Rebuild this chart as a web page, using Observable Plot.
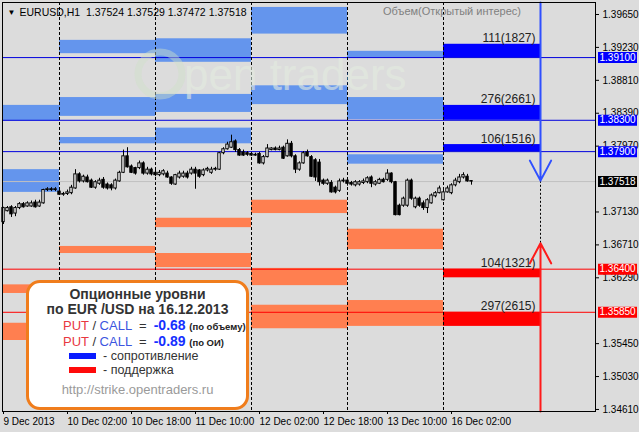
<!DOCTYPE html>
<html><head><meta charset="utf-8">
<script src="https://cdn.jsdelivr.net/npm/d3@7"></script>
<script src="https://cdn.jsdelivr.net/npm/@observablehq/plot@0.6"></script>
<style>
body{margin:0;background:#dcdcdc;}
#wrap{position:relative;width:639px;height:432px;overflow:hidden;background:#dcdcdc;font-family:"Liberation Sans",Arial,sans-serif;}
#chart svg{display:block;}
#wm{position:absolute;left:0;top:0;width:639px;height:432px;pointer-events:none;}
#legend{position:absolute;left:26px;top:280px;width:217px;height:124px;background:#fff;border:3px solid #f07d1c;border-radius:14px;color:#333;}
#legend div{position:absolute;white-space:nowrap;line-height:1;}
.put{color:#e8383f}.call{color:#3c55e0}.num{color:#1530ff;font-weight:bold;font-size:14px}.sm{font-weight:bold;font-size:9.5px;color:#222}
</style></head><body>
<div id="wrap">
  <div id="chart"></div>
  <div id="wm">
    <svg width="639" height="432">
      <circle cx="160" cy="74" r="22" fill="none" stroke="#cfe0c8" stroke-width="7" opacity="0.45"/>
      <text x="184" y="90" font-family="Liberation Sans, Arial" font-size="44" fill="#e4ece0" opacity="0.6">pen traders</text>
    </svg>
  </div>
  <div id="legend">
    <div style="left:0;width:217px;text-align:center;top:4px;font-weight:bold;font-size:14px;">Опционные уровни</div>
    <div style="left:0;width:217px;text-align:center;top:19px;font-weight:bold;font-size:14px;">по EUR /USD на 16.12.2013</div>
    <div style="left:34px;top:35px;font-size:13px;"><span class="put">PUT</span> / <span class="call">CALL</span> &nbsp;= &nbsp;<span class="num">-0.68</span> <span class="sm">(по объему)</span></div>
    <div style="left:34px;top:51px;font-size:13px;"><span class="put">PUT</span> / <span class="call">CALL</span> &nbsp;= &nbsp;<span class="num">-0.89</span> <span class="sm">(по ОИ)</span></div>
    <div style="left:40px;top:70px;width:27px;height:6px;background:#0a1cff;"></div>
    <div style="left:74px;top:67px;font-size:12.5px;">- сопротивление</div>
    <div style="left:40px;top:84px;width:27px;height:6px;background:#ff0a0a;"></div>
    <div style="left:74px;top:81px;font-size:12.5px;">- поддержка</div>
    <div style="left:0;width:217px;text-align:center;top:100px;font-size:13px;color:#9a9a9a;">http://strike.opentraders.ru</div>
  </div>
</div>
<script>
// ---- hourly candles (bar index 0 = 9 Dec 10:00) ----
const opens  = [1.3700,1.3714,1.3719,1.3711,1.3718,1.3723,1.3720,1.3720,1.3725,1.3720,1.3724,1.3741,1.3742,1.3741,1.3739,1.3735,1.3736,1.3737,1.3743,1.3761,1.3752,1.3757,1.3753,1.3744,1.3749,1.3754,1.3748,1.3747,1.3743,1.3752,1.3763,1.3784,1.3771,1.3769,1.3769,1.3775,1.3762,1.3767,1.3763,1.3760,1.3761,1.3762,1.3757,1.3748,1.3757,1.3758,1.3762,1.3762,1.3767,1.3766,1.3760,1.3766,1.3763,1.3767,1.3767,1.3788,1.3793,1.3795,1.3803,1.3792,1.3789,1.3788,1.3787,1.3786,1.3787,1.3775,1.3783,1.3792,1.3794,1.3792,1.3795,1.3784,1.3800,1.3784,1.3767,1.3775,1.3789,1.3783,1.3779,1.3776,1.3753,1.3749,1.3750,1.3744,1.3740,1.3752,1.3753,1.3750,1.3747,1.3748,1.3750,1.3751,1.3757,1.3748,1.3749,1.3754,1.3754,1.3762,1.3751,1.3721,1.3721,1.3721,1.3753,1.3719,1.3730,1.3724,1.3718,1.3724,1.3733,1.3737,1.3728,1.3738,1.3737,1.3747,1.3751,1.3757,1.3758,1.37524];
const highs  = [1.3719,1.3720,1.3721,1.3720,1.3725,1.3725,1.3726,1.3727,1.3728,1.3728,1.3742,1.3744,1.3744,1.3744,1.3742,1.3738,1.3741,1.3747,1.3767,1.3763,1.3760,1.3760,1.3755,1.3753,1.3756,1.3757,1.3750,1.3749,1.3755,1.3765,1.3792,1.3795,1.3773,1.3770,1.3778,1.3777,1.3770,1.3769,1.3766,1.3766,1.3767,1.3765,1.3758,1.3761,1.3765,1.3765,1.3765,1.3770,1.3770,1.3767,1.3768,1.3770,1.3770,1.3770,1.3789,1.3795,1.3802,1.3811,1.3805,1.3794,1.3792,1.3790,1.3789,1.3788,1.3789,1.3785,1.3799,1.3795,1.3796,1.3797,1.3797,1.3805,1.3803,1.3786,1.3777,1.3790,1.3792,1.3785,1.3781,1.3780,1.3755,1.3755,1.3753,1.3746,1.3755,1.3756,1.3755,1.3752,1.3753,1.3753,1.3755,1.3758,1.3759,1.3753,1.3756,1.3756,1.3767,1.3763,1.3752,1.3723,1.3732,1.3755,1.3755,1.3732,1.3732,1.3727,1.3730,1.3736,1.3739,1.3746,1.3741,1.3746,1.3749,1.3756,1.3761,1.3763,1.3761,1.37529];
const lows   = [1.3697,1.3713,1.3706,1.3707,1.3716,1.3718,1.3719,1.3719,1.3718,1.3719,1.3723,1.3739,1.3739,1.3739,1.3734,1.3733,1.3734,1.3735,1.3742,1.3750,1.3750,1.3750,1.3743,1.3742,1.3747,1.3742,1.3741,1.3740,1.3741,1.3751,1.3762,1.3769,1.3762,1.3760,1.3767,1.3760,1.3760,1.3759,1.3758,1.3758,1.3759,1.3756,1.3747,1.3747,1.3755,1.3756,1.3755,1.3760,1.3742,1.3756,1.3758,1.3764,1.3761,1.3765,1.3766,1.3786,1.3792,1.3794,1.3789,1.3784,1.3784,1.3784,1.3784,1.3784,1.3774,1.3773,1.3782,1.3791,1.3791,1.3791,1.3780,1.3783,1.3782,1.3762,1.3765,1.3774,1.3783,1.3757,1.3752,1.3746,1.3747,1.3747,1.3737,1.3736,1.3738,1.3750,1.3746,1.3746,1.3745,1.3746,1.3748,1.3749,1.3744,1.3746,1.3748,1.3750,1.3752,1.3749,1.3708,1.3708,1.3719,1.3719,1.3728,1.3717,1.3719,1.3715,1.3711,1.3723,1.3731,1.3736,1.3727,1.3737,1.3735,1.3745,1.3749,1.3755,1.3751,1.37472];
const closes = [1.3718,1.3718,1.3710,1.3718,1.3723,1.3719,1.3724,1.3724,1.3719,1.3725,1.3741,1.3742,1.3741,1.3742,1.3735,1.3736,1.3738,1.3744,1.3761,1.3752,1.3758,1.3751,1.3744,1.3751,1.3753,1.3744,1.3743,1.3743,1.3753,1.3763,1.3784,1.3770,1.3763,1.3762,1.3775,1.3762,1.3767,1.3761,1.3760,1.3763,1.3765,1.3757,1.3749,1.3760,1.3762,1.3762,1.3757,1.3767,1.3762,1.3758,1.3766,1.3768,1.3767,1.3768,1.3788,1.3793,1.3799,1.3802,1.3792,1.3785,1.3785,1.3786,1.3785,1.3785,1.3775,1.3783,1.3794,1.3794,1.3792,1.3794,1.3781,1.3800,1.3784,1.3767,1.3775,1.3788,1.3784,1.3758,1.3757,1.3751,1.3749,1.3753,1.3738,1.3738,1.3752,1.3753,1.3749,1.3748,1.3751,1.3751,1.3752,1.3756,1.3749,1.3751,1.3754,1.3751,1.3762,1.3751,1.3709,1.3709,1.3730,1.3753,1.3730,1.3730,1.3721,1.3718,1.3728,1.3734,1.3737,1.3743,1.3738,1.3743,1.3747,1.3753,1.3757,1.3760,1.3752,1.37518];

// ---- day separators (bar index of 00:00) and projection end ----
const daySep = [14, 38, 62, 86, 110];
const projEnd = 134.25;
const xTickIdx = [0, 16, 32, 48, 64, 80, 96, 112];
const xTickLabels = ["9 Dec 2013","10 Dec 02:00","10 Dec 18:00","11 Dec 10:00","12 Dec 02:00","12 Dec 18:00","13 Dec 10:00","16 Dec 02:00"];

// ---- previous days' option zones ----
const resistDay = [0,0,1,1,1,2,2,2,3,3,4,4,4];
const resistHi  = [1.3849,1.3767,1.3932,1.3859,1.3808,1.3934,1.3863,1.3820,1.3974,1.3874,1.3918,1.3859,1.3786];
const resistLo  = [1.3829,1.3738,1.3915,1.3835,1.3800,1.3904,1.3840,1.3800,1.3940,1.3850,1.3910,1.3831,1.3774];
const supportDay = [0,0,1,2,2,3,3,3,4,4];
const supportHi  = [1.3620,1.3571,1.3669,1.3705,1.3660,1.3728,1.3641,1.3594,1.3691,1.3600];
const supportLo  = [1.3609,1.3549,1.3660,1.3693,1.3642,1.3711,1.3619,1.3564,1.3665,1.3567];

// ---- current day levels ----
const levelStrike = [1.3910, 1.3830, 1.3790, 1.3640, 1.3585];
const levelEdge   = [1.3927, 1.3849, 1.3799, 1.3629, 1.3567];
const levelLabel  = ["111(1827)","276(2661)","106(1516)","104(1321)","297(2615)"];
const levelType   = ["call","call","call","put","put"];

// ---- axis ----
const yTicks = [1.3965,1.3923,1.3881,1.3839,1.3797,1.3713,1.3671,1.3629,1.3545,1.3503,1.3461];
const lastPrice = 1.37518;
const arrowDownTip = 1.3753;
const arrowUpTip = 1.3673;
const header = "EURUSD,H1  1.37524 1.37529 1.37472 1.37518";
const volTitle = "Объем(Открытый интерес)";

const xDom = [-0.25, 148];
const yDom = [1.34584, 1.39803];

const candles = opens.map((o, i) => ({i, o, h: highs[i], l: lows[i], c: closes[i]}));
const dayStart = d => d === 0 ? xDom[0] : daySep[d - 1];
const dayEnd = d => d < daySep.length ? daySep[d] : projEnd;
const resist = resistDay.map((d, k) => ({x1: dayStart(d), x2: dayEnd(d), y1: resistLo[k], y2: resistHi[k]}));
const support = supportDay.map((d, k) => ({x1: dayStart(d), x2: dayEnd(d), y1: supportLo[k], y2: supportHi[k]}));
const levels = levelStrike.map((s, k) => ({s, e: levelEdge[k], top: Math.max(s, levelEdge[k]), label: levelLabel[k], type: levelType[k]}));
const tags = [
  ...levels.map(l => ({y: l.s, color: l.type === "call" ? "#0000ff" : "#ff0000"})),
  {y: lastPrice, color: "#000000"}
];

const plot = Plot.plot({
  width: 639, height: 432,
  marginLeft: 2, marginRight: 44, marginTop: 2, marginBottom: 21,
  style: {background: "#dcdcdc", fontFamily: "Liberation Sans, Arial, sans-serif", fontSize: "10px", color: "#000"},
  x: {type: "linear", domain: xDom},
  y: {type: "linear", domain: yDom},
  marks: [
    Plot.rect(resist, {x1: "x1", x2: "x2", y1: "y1", y2: "y2", fill: "#6495ed"}),
    Plot.rect(support, {x1: "x1", x2: "x2", y1: "y1", y2: "y2", fill: "#ff7f50"}),
    Plot.rect(levels, {x1: daySep[daySep.length - 1], x2: projEnd, y1: "s", y2: "e", fill: d => d.type === "call" ? "#0000ff" : "#ff0000"}),
    Plot.ruleY(levels, {y: "s", stroke: d => d.type === "call" ? "#0000dd" : "#ff0000", strokeWidth: 1}),
    Plot.ruleY([lastPrice], {stroke: "#c0c0c0"}),
    Plot.ruleX(daySep, {stroke: "#000", strokeDasharray: "3,2"}),
    Plot.ruleX([projEnd], {y1: arrowUpTip, y2: arrowDownTip, stroke: "#000", strokeDasharray: "2,2"}),
    Plot.text(levels, {x: projEnd, y: "top", text: "label", textAnchor: "end", lineAnchor: "bottom", dx: -5, dy: -2, fontSize: 12, fill: "#222"}),
    Plot.ruleX(candles, {x: "i", y1: "l", y2: "h", stroke: "#000"}),
    Plot.rect(candles.filter(d => d.c >= d.o), {x1: d => d.i - 0.3, x2: d => d.i + 0.3, y1: "o", y2: "c", fill: "#fff", stroke: "#000"}),
    Plot.rect(candles.filter(d => d.c < d.o), {x1: d => d.i - 0.3, x2: d => d.i + 0.3, y1: "o", y2: "c", fill: "#000", stroke: "#000"}),
    Plot.arrow([{x: projEnd, y1: yDom[1], y2: arrowDownTip}], {x1: "x", x2: "x", y1: "y1", y2: "y2", stroke: "#2f4fff", strokeWidth: 2, headLength: 17, headAngle: 56}),
    Plot.arrow([{x: projEnd, y1: yDom[0], y2: arrowUpTip}], {x1: "x", x2: "x", y1: "y1", y2: "y2", stroke: "#ff1a1a", strokeWidth: 2, headLength: 17, headAngle: 56}),
    Plot.frame({stroke: "#000"}),
    Plot.axisY(yTicks, {anchor: "right", tickFormat: d3.format(".5f"), tickSize: 3, tickPadding: 4, fontSize: 10, label: null}),
    Plot.axisX(xTickIdx, {anchor: "bottom", tickSize: 3, tickPadding: 3, textAnchor: "start", tickFormat: d => xTickLabels[xTickIdx.indexOf(d)], fontSize: 10, label: null}),
    Plot.ruleY(tags, {y: "y", x1: 148.75, x2: 158.5, stroke: "color", strokeWidth: 11}),
    Plot.text(tags, {y: "y", x: 149, text: d => d3.format(".5f")(d.y), textAnchor: "start", fill: "#fff", fontSize: 10}),
    Plot.text([header], {frameAnchor: "top-left", dx: 17, dy: 6, textAnchor: "start", lineAnchor: "top", fontSize: 10.5, fill: "#000"}),
    Plot.text(["▼"], {frameAnchor: "top-left", dx: 5, dy: 7, textAnchor: "start", lineAnchor: "top", fontSize: 8, fill: "#000"}),
    Plot.text([volTitle], {frameAnchor: "top", dx: 153, dy: 5, lineAnchor: "top", fontSize: 11, fill: "#808080"})
  ]
});
document.getElementById("chart").appendChild(plot);
</script>
</body></html>
